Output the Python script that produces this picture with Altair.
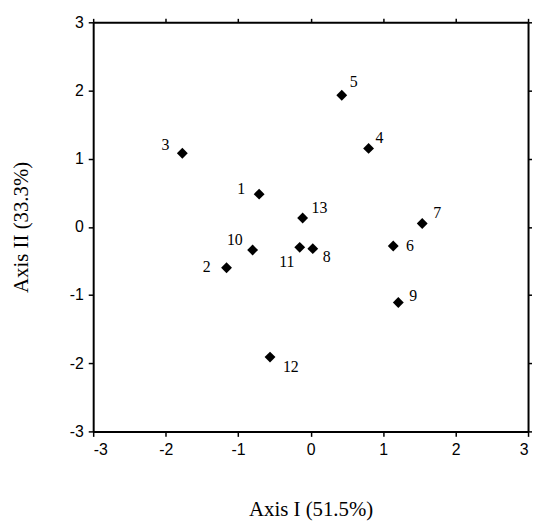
import altair as alt
import pandas as pd

labels = ["1", "2", "3", "4", "5", "6", "7", "8", "9", "10", "11", "12", "13"]
axis1 = [-0.71, -1.16, -1.77, 0.80, 0.43, 1.14, 1.54, 0.03, 1.21, -0.80, -0.15, -0.56, -0.11]
axis2 = [0.48, -0.60, 1.08, 1.15, 1.93, -0.28, 0.05, -0.32, -1.11, -0.34, -0.30, -1.91, 0.13]
# label offsets (pixels) relative to each point
label_dx = [-18, -20, -17, 11, 12, 17, 15, 14, 15, -18, -13, 21, 17]
label_dy = [-5, -1, -8, -11, -13, 0, -11, 8, -7, -10, 15, 10, -10]

W, H = 439, 413
df = pd.DataFrame({"label": labels, "x": axis1, "y": axis2, "dx": label_dx, "dy": label_dy})

ticks = [-3, -2, -1, 0, 1, 2, 3]
sc_x = alt.Scale(domain=[-3, 3], nice=False, zero=False)
sc_y = alt.Scale(domain=[-3, 3], nice=False, zero=False)

axis_common = dict(values=ticks, grid=False, domain=True, domainColor="black", domainWidth=2,
                   tickColor="black", tickWidth=1.5,
                   tickSize=5, labelFont="Liberation Sans", labelFontSize=16, labelColor="black",
                   labelExpr="'' + datum.value",
                   titleFont="Liberation Serif", titleFontSize=21, titleFontWeight="normal",
                   titleColor="black", labelPadding=5)

base = alt.Chart(df)

points = base.mark_point(shape="diamond", filled=True, color="black", size=120, opacity=1).encode(
    x=alt.X("x:Q", scale=sc_x, axis=alt.Axis(orient="bottom", title="Axis I (51.5%)",
                                              titlePadding=42, **axis_common)),
    y=alt.Y("y:Q", scale=sc_y, axis=alt.Axis(orient="left", title="Axis II (33.3%)",
                                              titlePadding=38, **axis_common)),
)

frame_axis = dict(values=ticks, grid=False, domain=True, domainColor="black", domainWidth=2,
                  tickColor="black", tickWidth=1.5,
                  tickSize=4, labels=False, title=None)

texts = base.transform_calculate(
    lx=f"datum.x + datum.dx * 6 / {W}",
    ly=f"datum.y - datum.dy * 6 / {H}",
).mark_text(font="Liberation Serif", fontSize=16, color="black").encode(
    x=alt.X("lx:Q", scale=sc_x, axis=alt.Axis(orient="top", **frame_axis)),
    y=alt.Y("ly:Q", scale=sc_y, axis=alt.Axis(orient="right", **frame_axis)),
    text="label:N",
)

chart = alt.layer(points, texts).resolve_axis(x="independent", y="independent").properties(
    width=W, height=H,
    background="white",
    autosize=alt.AutoSizeParams(type="none"),
    padding={"left": 86, "top": 12, "right": 4, "bottom": 88},
).configure_view(stroke=None)

chart.save("out.html", embed_options={"renderer": "svg", "actions": False})
